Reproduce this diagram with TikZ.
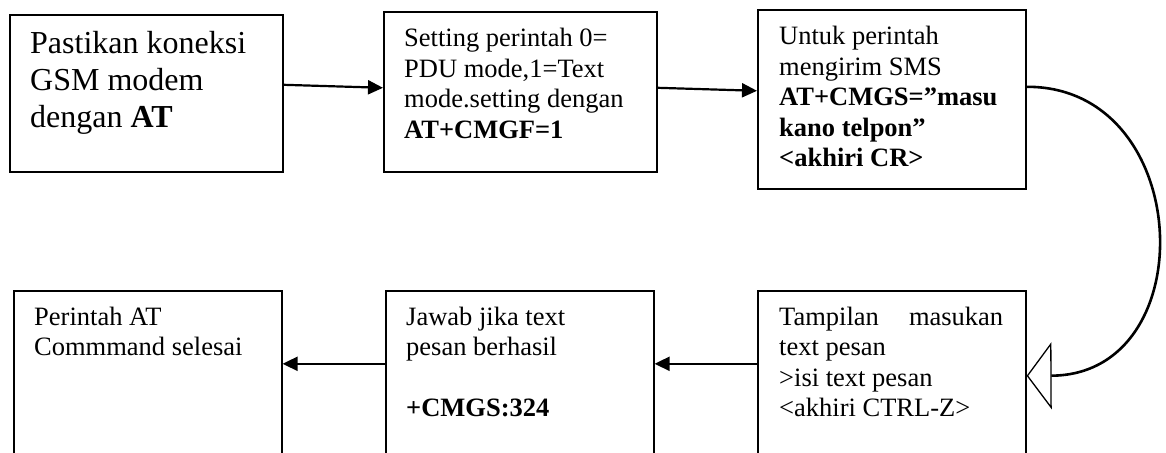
\documentclass[tikz,border=0pt]{standalone}
\usepackage{fontspec}
\setmainfont{Liberation Serif}
\usetikzlibrary{arrows.meta}
\begin{document}
\begin{tikzpicture}[x=1pt,y=-1pt,
  box/.style={draw, line width=1.6pt, rectangle, inner sep=0pt, anchor=north west},
  txt/.style={anchor=base west, inner sep=0pt, font=\fontsize{26.5}{30.5}\selectfont},
  bigtxt/.style={anchor=base west, inner sep=0pt, font=\fontsize{32}{37}\selectfont},
  link/.style={line width=2.2pt, -{Triangle[length=15pt,width=14pt]}},
  loop/.style={line width=2.6pt, -{Triangle[open, length=25pt, width=67pt, line width=1.3pt]}},
]
\useasboundingbox (0,0) rectangle (1166,452);
\clip (0,0) rectangle (1166,452);

% process boxes, top row left to right
\node[box, minimum width=273pt, minimum height=157pt] (b1) at (9,14) {};
\node[box, minimum width=273pt, minimum height=160pt] (b2) at (383,11) {};
\node[box, minimum width=268pt, minimum height=179pt] (b3) at (757,9) {};
% bottom row (runs past the lower edge)
\node[box, minimum width=268pt, minimum height=190pt] (b4) at (13,290) {};
\node[box, minimum width=268pt, minimum height=190pt] (b5) at (385,290) {};
\node[box, minimum width=268pt, minimum height=190pt] (b6) at (757,290) {};

% box texts
\node[bigtxt] (t1) at (30,53) {\parbox[t]{250pt}{\raggedright
  Pastikan koneksi\\ GSM modem\\ dengan \textbf{AT}}};
\node[txt] (t2) at (404,47) {\parbox[t]{250pt}{\raggedright
  Setting perintah 0=\\ PDU mode,1=Text\\ mode.setting dengan\\ \textbf{AT+CMGF=1}}};
\node[txt] (t3) at (779,45) {\parbox[t]{240pt}{\raggedright
  Untuk perintah\\ mengirim SMS\\ \textbf{AT+CMGS=”masu}\\ \textbf{kano telpon”}\\ \textbf{<akhiri CR>}}};
\node[txt] (t4) at (34,325) {\parbox[t]{240pt}{\raggedright
  Perintah AT\\ Commmand selesai}};
\node[txt] (t5) at (406,325) {\parbox[t]{240pt}{\raggedright
  Jawab jika text\\ pesan berhasil\\[30.5pt] \textbf{+CMGS:324}}};
\node[txt] (t6) at (779,325) {\parbox[t]{224pt}{%
  Tampilan\hfill masukan\\ text pesan\\ >isi text pesan\\ <akhiri CTRL-Z>}};

% connectors
\draw[link] ([yshift=8.5pt]b1.east) -- ([yshift=4pt]b2.west);
\draw[link] ([yshift=4pt]b2.east) -- ([yshift=8.5pt]b3.west);
\draw[loop] ([yshift=12.5pt]b3.east) .. controls (1195,86) and (1205,375) .. ([yshift=10pt]b6.east);
\draw[link] ([yshift=22pt]b6.west) -- ([yshift=22pt]b5.east);
\draw[link] ([yshift=22pt]b5.west) -- ([yshift=22pt]b4.east);
\end{tikzpicture}
\end{document}
